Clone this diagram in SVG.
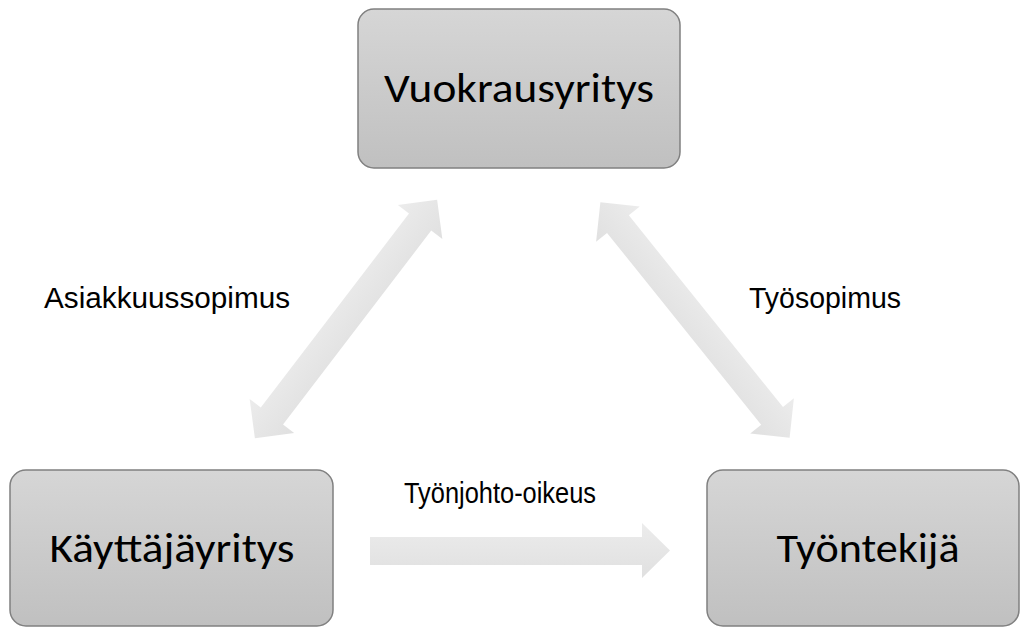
<svg xmlns="http://www.w3.org/2000/svg" width="1021" height="628" viewBox="0 0 1021 628">
<defs>
<linearGradient id="boxg" x1="0" y1="0" x2="0" y2="1">
<stop offset="0" stop-color="#d6d6d6"/>
<stop offset="1" stop-color="#c0c0c0"/>
</linearGradient>
<linearGradient id="arrg" x1="0" y1="0" x2="0" y2="1">
<stop offset="0" stop-color="#ececec"/>
<stop offset="1" stop-color="#e0e0e0"/>
</linearGradient>
<style>
.box{fill:url(#boxg);stroke:#808080;stroke-width:1.5}
.bt{font-family:Carlito,Lato,"Open Sans",sans-serif;font-size:40px;fill:#000;text-anchor:middle}
.lbl{font-family:"Liberation Sans",Arial,sans-serif;font-size:29px;fill:#000}
.arr{fill:url(#arrg)}
</style>
</defs>
<rect width="1021" height="628" fill="#fff"/>
<g id="connectors">
<path class="arr" transform="translate(346 319) rotate(-52.6)" d="M-150 0 L-122 -28 L-122 -14 L122 -14 L122 -28 L150 0 L122 28 L122 14 L-122 14 L-122 28 Z"/>
<path class="arr" transform="translate(695 320) rotate(51.2)" d="M-151 0 L-123 -28 L-123 -14 L123 -14 L123 -28 L151 0 L123 28 L123 14 L-123 14 L-123 28 Z"/>
<path class="arr" d="M370 537 L642 537 L642 523 L670 550.5 L642 578 L642 565 L370 565 Z"/>
<text class="lbl" x="44" y="308" textLength="246" lengthAdjust="spacingAndGlyphs">Asiakkuussopimus</text>
<text class="lbl" x="749" y="308" textLength="152" lengthAdjust="spacingAndGlyphs">Työsopimus</text>
<text class="lbl" x="404" y="503" textLength="192" lengthAdjust="spacingAndGlyphs">Työnjohto-oikeus</text>
</g>
<g id="vuokrausyritys">
<rect class="box" x="358" y="9" width="322" height="159" rx="16"/>
<text class="bt" x="519" y="102" textLength="270" lengthAdjust="spacingAndGlyphs">Vuokrausyritys</text>
</g>
<g id="kayttajayritys">
<rect class="box" x="10" y="470" width="323" height="156" rx="16"/>
<text class="bt" x="172" y="562" textLength="245" lengthAdjust="spacingAndGlyphs">Käyttäjäyritys</text>
</g>
<g id="tyontekija">
<rect class="box" x="707" y="470" width="312" height="156" rx="16"/>
<text class="bt" x="868" y="562" textLength="183" lengthAdjust="spacingAndGlyphs">Työntekijä</text>
</g>
</svg>
